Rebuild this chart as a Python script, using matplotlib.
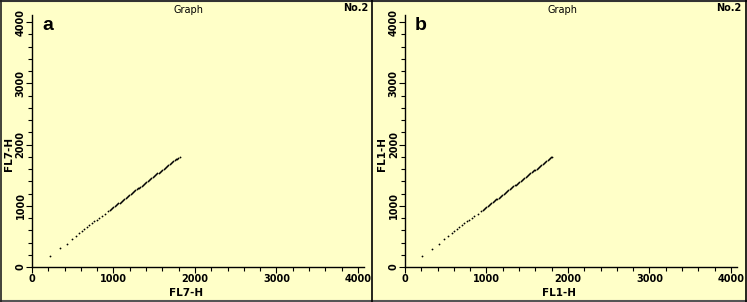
import matplotlib.pyplot as plt
from matplotlib.ticker import MultipleLocator
from matplotlib.lines import Line2D

# scatter values (sparse low end, dense upper run)
fl_x_a = [221, 344, 425, 487, 536, 577, 610, 642, 671, 704, 732, 765, 794, 822, 855, 896, 937,
          955, 970, 985, 1000, 1015, 1030, 1045, 1060, 1075, 1090, 1105, 1120, 1135, 1150,
          1165, 1180, 1195, 1210, 1225, 1240, 1255, 1270, 1285, 1300, 1315, 1330, 1345, 1360,
          1375, 1390, 1405, 1420, 1435, 1450, 1465, 1480, 1495, 1510, 1525, 1540, 1555, 1570,
          1585, 1600, 1615, 1630, 1645, 1660, 1675, 1690, 1705, 1720, 1735, 1750, 1765, 1780,
          1795, 1816]
fl7_y_a = [180, 305, 381, 452, 506, 550, 588, 626, 653, 686, 718, 746, 773, 795, 833, 871, 914,
           931, 946, 961, 977, 992, 1007, 1022, 1038, 1053, 1068, 1083, 1099, 1114, 1129,
           1145, 1160, 1175, 1190, 1206, 1221, 1236, 1252, 1267, 1282, 1297, 1313, 1328, 1343,
           1359, 1374, 1389, 1404, 1420, 1435, 1450, 1466, 1481, 1496, 1511, 1527, 1542, 1557,
           1573, 1588, 1603, 1618, 1634, 1649, 1664, 1680, 1695, 1710, 1725, 1741, 1756, 1771,
           1786, 1801]

fl_x_b = [209, 331, 413, 479, 530, 572, 606, 638, 667, 700, 728, 761, 790, 818, 851, 892, 933,
          955, 970, 985, 1000, 1015, 1030, 1045, 1060, 1075, 1090, 1105, 1120, 1135, 1150,
          1165, 1180, 1195, 1210, 1225, 1240, 1255, 1270, 1285, 1300, 1315, 1330, 1345, 1360,
          1375, 1390, 1405, 1420, 1435, 1450, 1465, 1480, 1495, 1510, 1525, 1540, 1555, 1570,
          1585, 1600, 1615, 1630, 1645, 1660, 1675, 1690, 1705, 1720, 1735, 1750, 1765, 1780,
          1795, 1810]
fl1_y_b = [180, 299, 381, 452, 506, 550, 588, 626, 653, 686, 718, 746, 773, 795, 833, 871, 914,
           935, 950, 965, 981, 996, 1011, 1026, 1042, 1057, 1072, 1087, 1103, 1118, 1133,
           1149, 1164, 1179, 1194, 1210, 1225, 1240, 1256, 1271, 1286, 1301, 1317, 1332, 1347,
           1363, 1378, 1393, 1408, 1424, 1439, 1454, 1470, 1485, 1500, 1515, 1531, 1546, 1561,
           1577, 1592, 1607, 1622, 1638, 1653, 1668, 1684, 1699, 1714, 1729, 1745, 1760, 1775,
           1790, 1801]

ticks = [0, 1000, 2000, 3000, 4000]

W, H = 747, 302
bg = '#FFFFC8'

fig = plt.figure(figsize=(W / 100, H / 100), dpi=100, facecolor=bg)


def px(x0, y0, x1, y1):
    # pixel box (top-left origin) -> figure fraction rect
    return [x0 / W, 1 - y1 / H, (x1 - x0) / W, (y1 - y0) / H]


panels = [
    (0, fl_x_a, fl7_y_a, 'FL7-H', 'FL7-H', 'a'),
    (373, fl_x_b, fl1_y_b, 'FL1-H', 'FL1-H', 'b'),
]

for off, xs, ys, xl, yl, tag in panels:
    ax = fig.add_axes(px(off + 32, 15, off + 364, 267))
    ax.set_facecolor(bg)
    ax.plot(xs, ys, 'o', ms=1.3, mew=0, color='black')
    ax.set_xlim(0, 4075)
    ax.set_ylim(0, 4115)
    for s in ['top', 'right']:
        ax.spines[s].set_visible(False)
    for s in ['left', 'bottom']:
        ax.spines[s].set_linewidth(1.0)
    ax.set_xticks(ticks)
    ax.set_yticks(ticks)
    ax.xaxis.set_minor_locator(MultipleLocator(200))
    ax.yaxis.set_minor_locator(MultipleLocator(200))
    ax.tick_params(which='major', direction='out', length=4, width=0.8, labelsize=7, pad=1)
    ax.tick_params(which='minor', direction='out', length=3, width=0.8)
    ax.tick_params(axis='y', which='major', pad=0.5)
    for lab in ax.get_yticklabels():
        lab.set_rotation(90)
        lab.set_va('center')
    for lab in ax.get_xticklabels() + ax.get_yticklabels():
        lab.set_fontweight('bold')
    ax.set_xlabel(xl, fontsize=7.5, fontweight='bold')
    ax.set_ylabel(yl, fontsize=7.5, fontweight='bold')
    # fixed label positions (axes box is 332 x 252 px)
    ax.xaxis.set_label_coords(0.465, -26 / 252)
    ax.yaxis.set_label_coords(-23 / 332, 0.45)
    ax.xaxis.label.set_va('center')
    ax.yaxis.label.set_va('center')
    fig.text((off + 189) / W, 1 - 10 / H, 'Graph', fontsize=7, ha='center', va='center')
    fig.text((off + 368) / W, 1 - 8 / H, 'No.2', fontsize=7, fontweight='bold',
             ha='right', va='center')
    fig.text((off + 48) / W, 1 - 26 / H, tag, fontsize=14, fontweight='bold',
             family='Liberation Sans', ha='center', va='center')

# panel frames
def hline(y, x0, x1, c, lw):
    fig.add_artist(Line2D([x0 / W, x1 / W], [1 - y / H, 1 - y / H], color=c, lw=lw))


def vline(x, y0, y1, c, lw):
    fig.add_artist(Line2D([x / W, x / W], [1 - y0 / H, 1 - y1 / H], color=c, lw=lw))


hline(0.5, 0, W, '#333333', 1.5)
hline(301, 0, W, '#555555', 1.5)
vline(0.5, 0, H, '#222222', 1.2)
vline(371.5, 0, H, 'black', 1.2)
vline(746.3, 0, H, 'black', 1.2)

fig.savefig('out.png', dpi=100, facecolor=bg)
